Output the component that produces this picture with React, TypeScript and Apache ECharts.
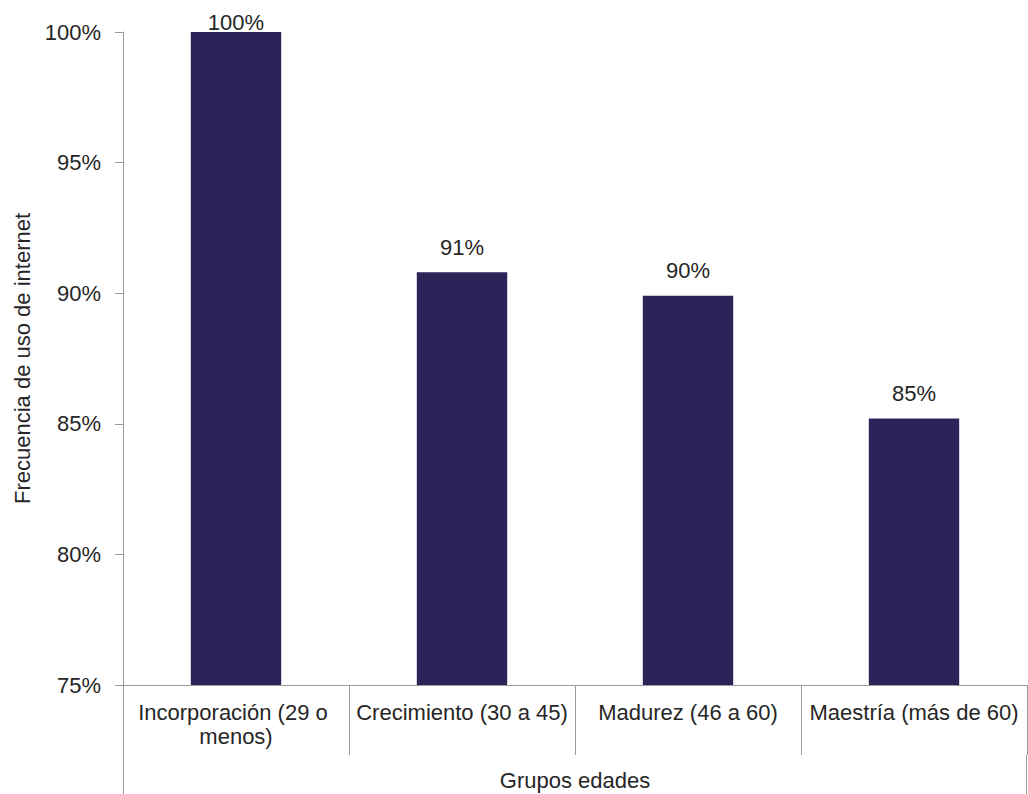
import React, { useEffect, useRef } from "react";
import * as echarts from "echarts";

// Age groups and share of people using internet frequently (%)
const categories = [
  "Incorporación (29 o menos)",
  "Crecimiento (30 a 45)",
  "Madurez (46 a 60)",
  "Maestría (más de 60)",
];
const values = [100, 90.8, 89.9, 85.2];
const yTicks = { min: 75, max: 100, interval: 5 };

const FONT = "'Liberation Sans', Arial, sans-serif";
const TEXT = "#262626";
const AXIS = "#9a9a9a";
const BAR = "#2A2459";
const FS = 22;

const W = 1028;
const H = 794;
const GRID = { left: 123, right: 1, top: 32, bottom: 109 };

export default function App() {
  const ref = useRef<HTMLDivElement>(null);

  useEffect(() => {
    document.body.style.margin = "0";
    if (!ref.current) return;
    const chart = echarts.init(ref.current, null, { renderer: "svg" });
    const axisY = H - GRID.bottom;
    const xLeft = GRID.left;
    const xRight = W - GRID.right;

    chart.setOption({
      animation: false,
      textStyle: { fontFamily: FONT },
      grid: { ...GRID, containLabel: false, outerBoundsMode: "none" },
      xAxis: {
        type: "category",
        data: categories,
        name: "Grupos edades",
        nameLocation: "middle",
        nameGap: 84,
        nameTextStyle: { fontSize: FS, color: TEXT, fontFamily: FONT },
        axisLine: { show: true, lineStyle: { color: AXIS, width: 1 } },
        axisTick: {
          show: true,
          interval: 0,
          length: 70,
          alignWithLabel: false,
          lineStyle: { color: AXIS, width: 1 },
        },
        axisLabel: {
          interval: 0,
          margin: 15,
          fontSize: FS,
          lineHeight: 24,
          color: TEXT,
          width: 240,
          overflow: "break",
          fontFamily: FONT,
        },
      },
      yAxis: {
        type: "value",
        min: yTicks.min,
        max: yTicks.max,
        interval: yTicks.interval,
        name: "Frecuencia de uso de internet",
        nameLocation: "middle",
        nameGap: 90,
        nameRotate: 90,
        nameTextStyle: { fontSize: FS, color: TEXT, fontFamily: FONT },
        splitLine: { show: false },
        axisLine: { show: true, lineStyle: { color: AXIS, width: 1 } },
        axisTick: { show: true, length: 8, lineStyle: { color: AXIS, width: 1 } },
        axisLabel: {
          margin: 22,
          fontSize: FS,
          color: TEXT,
          fontFamily: FONT,
          formatter: (v: number) => `${v}%`,
        },
      },
      series: [
        {
          type: "bar",
          barWidth: "40%",
          itemStyle: { color: BAR },
          label: {
            show: true,
            position: "top",
            distance: 14,
            fontSize: FS,
            color: TEXT,
            fontFamily: FONT,
            formatter: (p: any) => `${Math.round(p.value)}%`,
          },
          data: values.map((v) =>
            v >= yTicks.max ? { value: v, label: { distance: -1 } } : v
          ),
        },
      ],
      graphic: [
        {
          type: "line",
          shape: { x1: xLeft + 0.5, y1: axisY + 70, x2: xLeft + 0.5, y2: H },
          style: { stroke: AXIS, lineWidth: 1 },
        },
        {
          type: "line",
          shape: { x1: xRight - 0.5, y1: axisY + 70, x2: xRight - 0.5, y2: H },
          style: { stroke: AXIS, lineWidth: 1 },
        },
      ],
    });

    return () => chart.dispose();
  }, []);

  return <div ref={ref} style={{ width: W, height: H }} />;
}
